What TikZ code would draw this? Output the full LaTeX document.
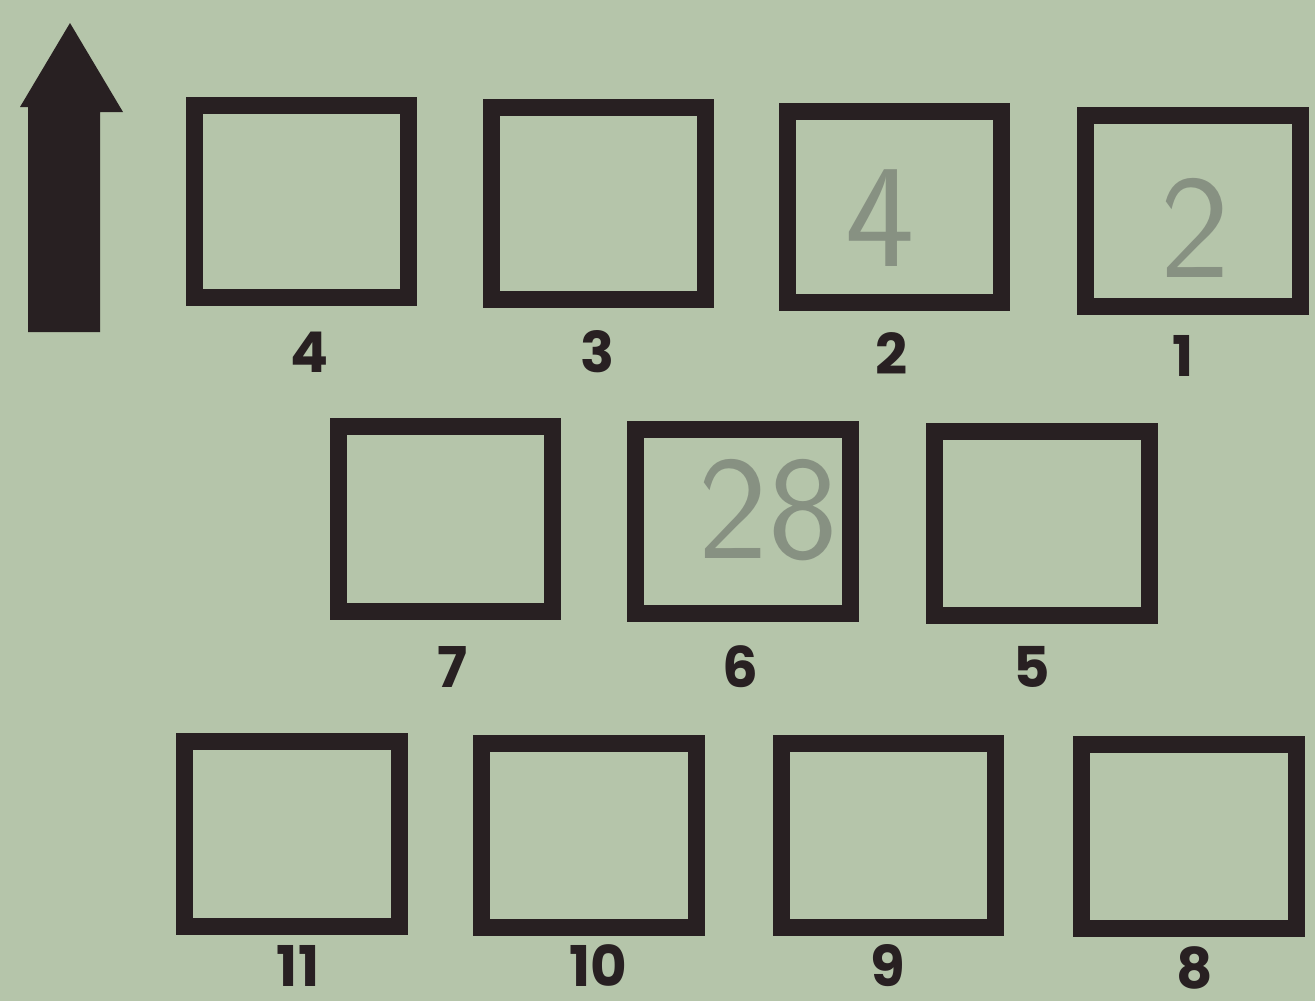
\documentclass[tikz,border=0pt]{standalone}
\usepackage{fontspec}
\setmainfont{Poppins}
\definecolor{bgcol}{RGB}{181,197,170}
\definecolor{inkcol}{RGB}{40,32,34}
\definecolor{pencil}{RGB}{135,145,130}
\begin{document}
\begin{tikzpicture}[x=0.02cm,y=-0.02cm,
  boxA/.style={draw=inkcol,line width=0.34cm,minimum width=4.3cm,minimum height=3.84cm,inner sep=0pt,rectangle},
  boxB/.style={draw=inkcol,line width=0.34cm,minimum width=4.3cm,minimum height=3.7cm,inner sep=0pt,rectangle},
  lab/.style={text=inkcol,font=\fontsize{32}{32}\selectfont\bfseries,anchor=base,inner sep=0pt},
  hand/.style={text=pencil,font=\fontsize{84}{84}\selectfont\sffamily,inner sep=0pt}]
\fill[bgcol] (0,0) rectangle (1315,1001);
\useasboundingbox (0,0) rectangle (1315,1001);
% arrow
\fill[inkcol] (28,332) -- (100,332) -- (100,112) -- (123,112) -- (70,23) -- (20,107) -- (28,107) -- cycle;
% row 1
\node[boxA] (b4) at (301.5,201.5) {};
\node[boxA] (b3) at (598.5,203.5) {};
\node[boxA] (b2) at (894.5,207) {};
\node[boxA] (b1) at (1193,211) {};
% row 2
\node[boxB] (b7) at (445.5,519) {};
\node[boxB] (b6) at (743,521.5) {};
\node[boxB] (b5) at (1042,523.5) {};
% row 3
\node[boxB] (b11) at (292,834) {};
\node[boxB] (b10) at (589,835.5) {};
\node[boxB] (b9) at (888.5,835.5) {};
\node[boxB] (b8) at (1189,836.5) {};
% labels
\node[lab] (l4) at (310,372) {4};
\node[lab] (l3) at (598,372) {3};
\node[lab] (l2) at (892,374) {2};
\node[lab] (l1) at (1183,376) {1};
\node[lab] (l7) at (453,687) {7};
\node[lab] (l6) at (740,687) {6};
\node[lab] (l5) at (1032,687) {5};
\node[lab] (l11) at (298,986) {11};
\node[lab] (l10) at (598,986) {10};
\node[lab] (l9) at (888,986) {9};
\node[lab] (l8) at (1195,988) {8};
% handwritten
\node[hand] (h2) at (880,218) {4};
\node[hand] (h1) at (1195,228) {2};
\node[hand] (h6) at (768,510) {28};
\end{tikzpicture}
\end{document}
